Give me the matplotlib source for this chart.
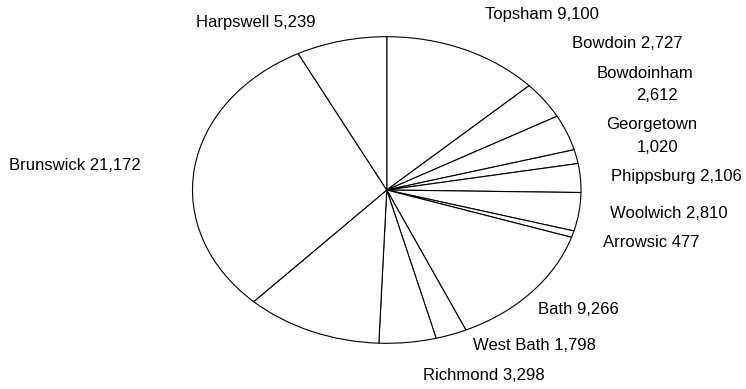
import matplotlib.pyplot as plt

plt.rcParams['font.family'] = ['Liberation Sans', 'DejaVu Sans']

# towns, clockwise from 12 o'clock
towns = ['Topsham', 'Bowdoin', 'Bowdoinham', 'Georgetown', 'Phippsburg',
         'Woolwich', 'Arrowsic', 'Bath', 'West Bath', 'Richmond', '',
         'Brunswick', 'Harpswell']
population = [9100, 2727, 2612, 1020, 2106, 2810, 477, 9266, 1798, 3298, 7900,
              21172, 5239]

# label anchors (pixels from top-left): left edge, vertical centre
label_pos = {
    'Topsham': (485, 14),
    'Bowdoin': (572, 43),
    'Bowdoinham': (597, 73),
    'Georgetown': (606, 125),
    'Phippsburg': (611, 177),
    'Woolwich': (610, 213),
    'Arrowsic': (603, 243),
    'Bath': (538, 310),
    'West Bath': (473, 346),
    'Richmond': (423, 376),
    'Brunswick': (9, 165),
    'Harpswell': (196, 22),
}
# wrapped labels: where the number line goes
wrapped = {'Bowdoinham': (636, 95), 'Georgetown': (637, 147)}

W, H = 746, 389
fig = plt.figure(figsize=(W / 100, H / 100), dpi=100)
ax = fig.add_axes([192.5 / W, (H - 343.3) / H, 388.5 / W, 306.6 / H])

ax.pie(population, startangle=90, counterclock=False,
       wedgeprops=dict(facecolor='white', edgecolor='black', linewidth=0.8))
ax.set_aspect('auto')
ax.set_xlim(-1, 1)
ax.set_ylim(-1, 1)
ax.axis('off')

for name, val in zip(towns, population):
    if not name:
        continue
    x, y = label_pos[name]
    if name in wrapped:
        fig.text(x / W, 1 - y / H, name, fontsize=12, ha='left', va='center')
        x2, y2 = wrapped[name]
        fig.text(x2 / W, 1 - y2 / H, f'{val:,}', fontsize=12, ha='left', va='center')
    else:
        fig.text(x / W, 1 - y / H, f'{name} {val:,}', fontsize=12,
                 ha='left', va='center')

fig.savefig('out.png', dpi=100, facecolor='white')
